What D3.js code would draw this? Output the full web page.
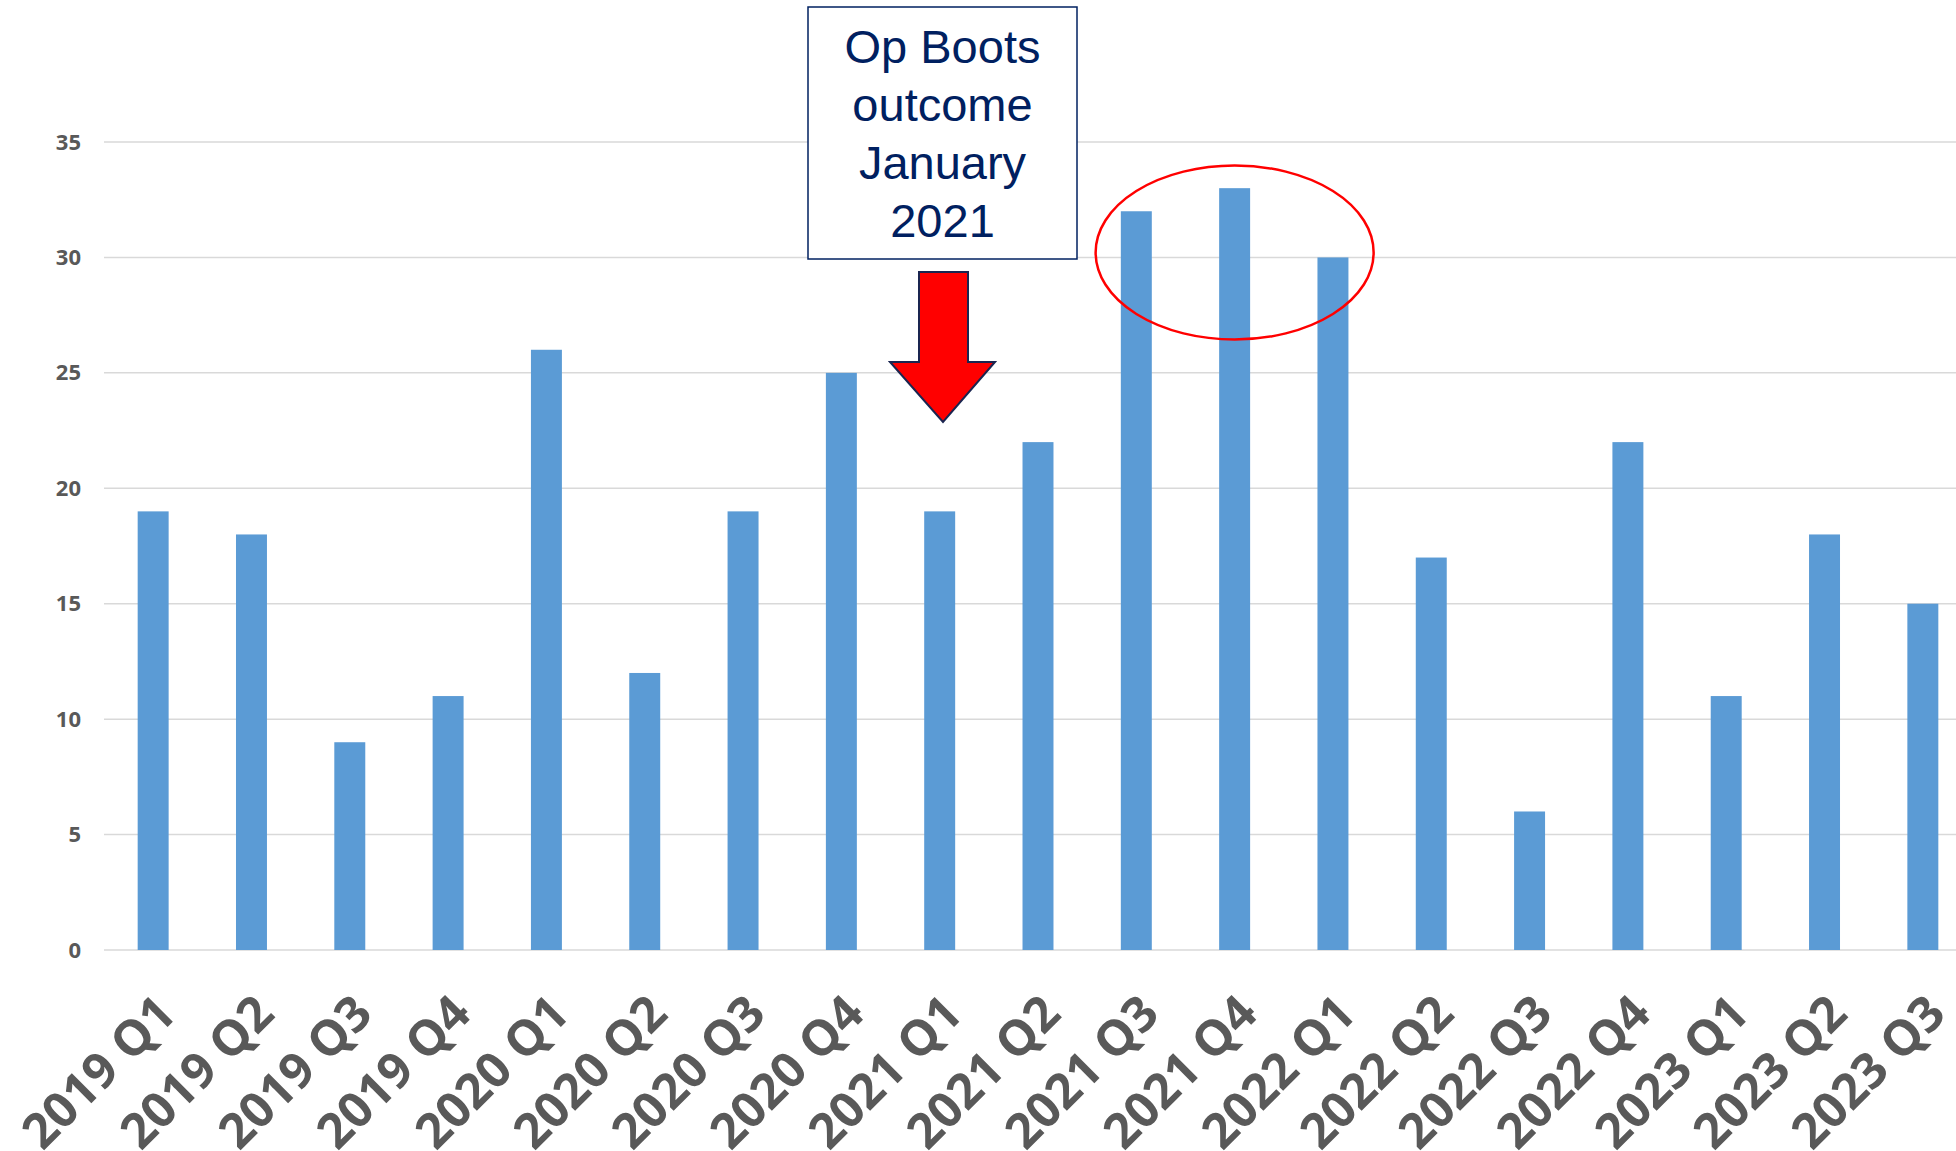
<!DOCTYPE html>
<html>
<head>
<meta charset="utf-8">
<script src="https://cdn.jsdelivr.net/npm/d3@7"></script>
<style>
  body { margin: 0; background: #fff; }
  svg { display: block; }
</style>
</head>
<body>
<script>
// chart values
var quarters = ['2019 Q1', '2019 Q2', '2019 Q3', '2019 Q4', '2020 Q1', '2020 Q2', '2020 Q3', '2020 Q4',
                '2021 Q1', '2021 Q2', '2021 Q3', '2021 Q4', '2022 Q1', '2022 Q2', '2022 Q3', '2022 Q4',
                '2023 Q1', '2023 Q2', '2023 Q3'];
var counts   = [19, 18, 9, 11, 26, 12, 19, 25, 19, 22, 32, 33, 30, 17, 6, 22, 11, 18, 15];
var yTicks   = [0, 5, 10, 15, 20, 25, 30, 35];
var noteLines = ['Op Boots', 'outcome', 'January', '2021'];
var circled   = ['2021 Q3', '2021 Q4', '2022 Q1'];

var width  = 1956,
    height = 1151,
    plot   = { left: 104, right: 1972, top: 142, bottom: 950 };

var svg = d3.select('body').append('svg')
    .attr('width', width)
    .attr('height', height);

// Scale for x-axis
var xScale = d3.scaleBand().domain(quarters).range([plot.left, plot.right]).paddingInner(0.685).paddingOuter(0.3425);

// Scale for y-axis
var yScale = d3.scaleLinear().domain([0, 35]).range([plot.bottom, plot.top]);

// Gridlines
svg.append('g')
    .selectAll('line')
    .data(yTicks)
    .enter().append('line')
    .attr('x1', plot.left)
    .attr('x2', width)
    .attr('y1', function(d) { return yScale(d); })
    .attr('y2', function(d) { return yScale(d); })
    .style('stroke', '#d9d9d9')
    .style('stroke-width', 1.5);

// Y axis labels
var yAxis = d3.axisLeft(yScale).tickValues(yTicks).tickSize(0).tickPadding(0);
var gy = svg.append('g')
    .attr('transform', 'translate(81,0)')
    .call(yAxis);
gy.select('.domain').remove();
gy.selectAll('text')
    .style('font-family', '"Open Sans", sans-serif')
    .style('font-weight', 'bold')
    .style('font-size', '22px')
    .style('fill', '#595959');

// Bars
svg.append('g')
    .selectAll('rect')
    .data(counts)
    .enter().append('rect')
    .attr('x', function(d, i) { return xScale(quarters[i]); })
    .attr('y', function(d) { return yScale(d); })
    .attr('width', xScale.bandwidth())
    .attr('height', function(d) { return yScale(0) - yScale(d); })
    .style('fill', '#5b9bd5');

// X axis labels, rotated
var xAxis = d3.axisBottom(xScale).tickSize(0).tickPadding(0);
var gx = svg.append('g')
    .attr('transform', 'translate(0,' + plot.bottom + ')')
    .call(xAxis);
gx.select('.domain').remove();
gx.selectAll('text')
    .attr('text-anchor', 'end')
    .attr('dy', '0.35em')
    .attr('transform', 'translate(13,54) rotate(-45)')
    .style('font-family', '"Open Sans", sans-serif')
    .style('font-weight', 'bold')
    .style('font-size', '49px')
    .style('fill', '#595959');

// Annotation box
var note = svg.append('g');
note.append('rect')
    .attr('x', 808)
    .attr('y', 7)
    .attr('width', 269)
    .attr('height', 252)
    .style('fill', '#fff')
    .style('stroke', '#002060')
    .style('stroke-width', 1.5);
note.selectAll('text')
    .data(noteLines)
    .enter().append('text')
    .attr('x', 942.5)
    .attr('y', function(d, i) { return 63 + i * 58; })
    .attr('text-anchor', 'middle')
    .style('font-family', '"Liberation Sans", Arial, sans-serif')
    .style('font-size', '47px')
    .style('fill', '#002060')
    .text(function(d) { return d; });

// Red arrow pointing at the 2021 Q1 bar
var arrow = [[919, 272], [968, 272], [968, 362], [995, 362], [943, 422], [890, 362], [919, 362]];
svg.append('path')
    .attr('d', d3.line()(arrow) + 'Z')
    .style('fill', '#ff0000')
    .style('stroke', '#1a2550')
    .style('stroke-width', 2)
    .style('stroke-linejoin', 'miter');

// Ellipse around the peak quarters
var e0 = xScale(circled[0]), e1 = xScale(circled[2]) + xScale.bandwidth();
svg.append('ellipse')
    .attr('cx', (e0 + e1) / 2)
    .attr('cy', 252.5)
    .attr('rx', 139)
    .attr('ry', 87)
    .style('fill', 'none')
    .style('stroke', '#ff0000')
    .style('stroke-width', 2.5);
</script>
</body>
</html>
